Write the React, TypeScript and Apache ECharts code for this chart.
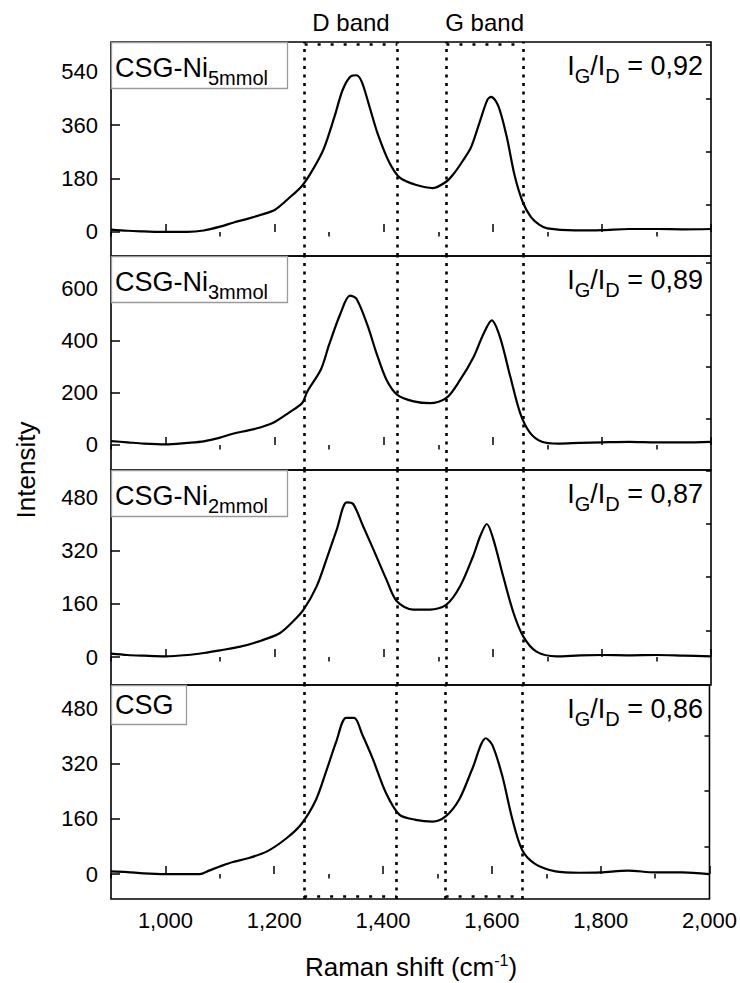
import React, { useEffect, useRef } from "react";
import * as echarts from "echarts";

const FONT = "'Liberation Sans', Arial, Helvetica, sans-serif";

// ---- data (Raman shift, intensity) ----
const x1 = [900,930,960,1000,1040,1070,1100,1125,1150,1175,1200,1225,1250,1270,1290,1310,1325,1340,1350,1360,1375,1390,1410,1430,1460,1490,1515,1530,1545,1560,1575,1590,1597,1610,1625,1640,1655,1670,1685,1700,1750,1800,1850,1900,1950,2000];
const y1 = [8,4,2,0,0,5,18,32,44,58,74,112,155,210,280,390,480,525,528,505,415,325,235,182,158,148,170,200,240,285,365,445,455,425,325,190,100,50,25,12,5,6,10,10,9,10];

const x2 = [900,930,960,1000,1040,1070,1100,1125,1150,1175,1200,1225,1250,1260,1285,1300,1320,1338,1350,1370,1387,1405,1425,1455,1485,1515,1540,1565,1583,1598,1613,1632,1650,1668,1690,1720,1760,1800,1850,1900,1950,2000];
const y2 = [15,10,5,2,8,14,28,44,55,68,88,122,160,205,290,385,500,572,560,460,350,250,192,167,160,180,249,338,426,477,414,262,123,47,12,5,8,10,12,10,10,12];

const x3 = [900,930,960,1000,1040,1070,1100,1137,1175,1210,1234,1253,1277,1295,1314,1332,1344,1362,1381,1405,1424,1454,1485,1515,1540,1564,1577,1589,1601,1619,1638,1656,1680,1717,1760,1800,1850,1900,1950,2000];
const y3 = [10,6,4,2,6,12,20,31,49,72,107,142,212,293,383,464,459,393,323,232,167,142,142,157,212,303,363,399,353,242,132,61,16,2,5,6,5,6,4,2];

const x4 = [900,930,960,1000,1040,1063,1080,1100,1124,1150,1186,1222,1250,1277,1295,1314,1332,1347,1362,1381,1405,1430,1460,1491,1515,1540,1564,1589,1601,1619,1638,1656,1680,1717,1760,1800,1850,1900,1950,2000];
const y4 = [8,6,2,0,0,0,10,22,35,45,65,103,145,216,295,383,452,452,403,334,236,172,157,152,167,216,304,393,373,285,157,69,29,8,4,5,10,5,5,0];

const seriesX = [x1, x2, x3, x4];
const seriesY = [y1, y2, y3, y4];

const sampleNames = ["CSG-Ni", "CSG-Ni", "CSG-Ni", "CSG"];
const sampleSubs = ["5mmol", "3mmol", "2mmol", ""];
const ratioValues = ["0,92", "0,89", "0,87", "0,86"];

const xMin = 900;
const xMax = 2000;
const xMajorTicks = [1000, 1200, 1400, 1600, 1800, 2000];
const xMinorTicks = [900, 1100, 1300, 1500, 1700, 1900];

const yMins = [-81, -96, -84, -72];
const yMaxs = [640, 724, 561, 547];
const yMajorTicks = [
  [0, 180, 360, 540],
  [0, 200, 400, 600],
  [0, 160, 320, 480],
  [0, 160, 320, 480],
];
const yMinorTicks = [
  [90, 270, 450, 630],
  [100, 300, 500, 700],
  [80, 240, 400, 560],
  [80, 240, 400],
];

const bandEdges = [1255, 1425, 1515, 1655];
const bandNames = ["D band", "G band"];
const bandCenters = [1340, 1585];
const bandTopY = 632; // panel 1 value just under the frame
const bandBottomY = -63; // panel 4 value just above the frame

// ---- layout ----
const gridTops = [42, 256, 470, 685];
const gridHeights = [214, 214, 215, 214];
const gridLeft = 111;
const gridRight = 29;

export default function App() {
  const ref = useRef<HTMLDivElement>(null);

  useEffect(() => {
    if (!ref.current) return;
    const chart = echarts.init(ref.current, undefined, { renderer: "svg" });

    const grids: any[] = [];
    const xAxes: any[] = [];
    const yAxes: any[] = [];
    const series: any[] = [];

    for (let i = 0; i < 4; i++) {
      grids.push({
        left: gridLeft,
        right: gridRight,
        top: gridTops[i],
        height: gridHeights[i],
        show: true,
        borderColor: "#000",
        borderWidth: 1.6,
        backgroundColor: "transparent",
      });
      const isBottom = i === 3;
      // major x
      xAxes.push({
        type: "value",
        gridIndex: i,
        min: xMin,
        max: xMax,
        axisLine: { show: false },
        splitLine: { show: false },
        axisTick: {
          show: true,
          inside: true,
          length: 8,
          customValues: xMajorTicks,
          lineStyle: { color: "#000", width: 1.5 },
        },
        axisLabel: {
          show: isBottom,
          customValues: xMajorTicks,
          fontSize: 22,
          fontFamily: FONT,
          color: "#000",
          margin: 10,
        },
      });
      // minor x
      xAxes.push({
        type: "value",
        gridIndex: i,
        min: xMin,
        max: xMax,
        axisLine: { show: false },
        splitLine: { show: false },
        axisTick: {
          show: true,
          inside: true,
          length: 4.5,
          customValues: xMinorTicks,
          lineStyle: { color: "#000", width: 1.5 },
        },
        axisLabel: { show: false },
      });
      // major y
      yAxes.push({
        type: "value",
        gridIndex: i,
        min: yMins[i],
        max: yMaxs[i],
        axisLine: { show: false },
        splitLine: { show: false },
        axisTick: {
          show: true,
          inside: true,
          length: 9,
          customValues: yMajorTicks[i],
          lineStyle: { color: "#000", width: 1.5 },
        },
        axisLabel: {
          show: true,
          customValues: yMajorTicks[i],
          fontSize: 22,
          fontFamily: FONT,
          color: "#000",
          margin: 13,
        },
      });
      // minor y
      yAxes.push({
        type: "value",
        gridIndex: i,
        min: yMins[i],
        max: yMaxs[i],
        axisLine: { show: false },
        splitLine: { show: false },
        axisTick: {
          show: true,
          inside: true,
          length: 5,
          customValues: yMinorTicks[i],
          lineStyle: { color: "#000", width: 1.5 },
        },
        axisLabel: { show: false },
      });

      const mlData: any[] = bandEdges.map((v) => ({ xAxis: v }));
      const hDash: any = { type: [3, 10], width: 2.6, color: "#000" };
      if (i === 0) {
        mlData.push([{ coord: [bandEdges[0], bandTopY], lineStyle: hDash }, { coord: [bandEdges[1], bandTopY] }]);
        mlData.push([{ coord: [bandEdges[2], bandTopY], lineStyle: hDash }, { coord: [bandEdges[3], bandTopY] }]);
      }
      if (i === 3) {
        mlData.push([{ coord: [bandEdges[0], bandBottomY], lineStyle: hDash }, { coord: [bandEdges[1], bandBottomY] }]);
        mlData.push([{ coord: [bandEdges[2], bandBottomY], lineStyle: hDash }, { coord: [bandEdges[3], bandBottomY] }]);
      }

      series.push({
        type: "line",
        xAxisIndex: 2 * i,
        yAxisIndex: 2 * i,
        data: seriesX[i].map((x, k) => [x, seriesY[i][k]]),
        showSymbol: false,
        symbol: "none",
        smooth: 0.3,
        lineStyle: { color: "#000", width: 2.2 },
        z: 3,
        markLine: {
          silent: true,
          symbol: ["none", "none"],
          label: { show: false },
          lineStyle: { type: [3, 5.5], width: 2.6, color: "#000", cap: "butt" },
          emphasis: { disabled: true },
          data: mlData,
        },
      });
    }

    chart.setOption({
      animation: false,
      backgroundColor: "#fff",
      grid: grids,
      xAxis: xAxes,
      yAxis: yAxes,
      series,
    });

    const graphics: any[] = [];
    // sample label boxes and ratio texts
    for (let i = 0; i < 4; i++) {
      const hasSub = sampleSubs[i] !== "";
      const boxW = hasSub ? 176 : 75;
      const boxH = hasSub ? 46 : 39;
      graphics.push({
        type: "rect",
        z: 100,
        shape: { x: gridLeft + 0.5, y: gridTops[i] + 0.5, width: boxW, height: boxH },
        style: { fill: "#fff", stroke: "#9a9a9a", lineWidth: 1.3 },
      });
      graphics.push({
        type: "text",
        z: 101,
        x: gridLeft + 4,
        y: gridTops[i] + boxH / 2 + (hasSub ? 3 : 0),
        style: {
          text: hasSub ? `{m|${sampleNames[i]}}{s|${sampleSubs[i]}}` : `{m|${sampleNames[i]}}`,
          align: "left",
          verticalAlign: "middle",
          rich: {
            m: { fontSize: 27, fontFamily: FONT, fill: "#000", lineHeight: 30 },
            s: { fontSize: 20, fontFamily: FONT, fill: "#000", lineHeight: 20, padding: [20, 0, 0, 0] },
          },
        },
      });
      graphics.push({
        type: "text",
        z: 101,
        x: 703,
        y: gridTops[i] + 24,
        style: {
          text: `{m|I}{s|G}{m|/I}{s|D}{m| = ${ratioValues[i]}}`,
          align: "right",
          verticalAlign: "middle",
          rich: {
            m: { fontSize: 27, fontFamily: FONT, fill: "#000", lineHeight: 30 },
            s: { fontSize: 20, fontFamily: FONT, fill: "#000", lineHeight: 20, padding: [20, 0, 0, 0] },
          },
        },
      });
    }
    // band labels
    for (let b = 0; b < bandNames.length; b++) {
      const px = chart.convertToPixel({ xAxisIndex: 0 }, bandCenters[b]) as number;
      graphics.push({
        type: "text",
        z: 101,
        x: px,
        y: 22,
        style: {
          text: bandNames[b],
          align: "center",
          verticalAlign: "middle",
          fontSize: 24,
          fontFamily: FONT,
          fill: "#000",
        },
      });
    }
    // axis titles
    graphics.push({
      type: "text",
      z: 101,
      x: 411,
      y: 967,
      style: {
        text: "{m|Raman shift (cm}{s|-1}{m|)}",
        align: "center",
        verticalAlign: "middle",
        rich: {
          m: { fontSize: 26, fontFamily: FONT, fill: "#000", lineHeight: 30 },
          s: { fontSize: 16, fontFamily: FONT, fill: "#000", lineHeight: 16, padding: [0, 0, 14, 0] },
        },
      },
    });
    graphics.push({
      type: "text",
      z: 101,
      x: 26,
      y: 470,
      rotation: Math.PI / 2,
      style: {
        text: "Intensity",
        align: "center",
        verticalAlign: "middle",
        fontSize: 26,
        fontFamily: FONT,
        fill: "#000",
      },
    });

    chart.setOption({ graphic: graphics });

    return () => {
      chart.dispose();
    };
  }, []);

  return (
    <div
      ref={ref}
      style={{ position: "absolute", left: 0, top: 0, width: 740, height: 983, background: "#fff" }}
    />
  );
}
